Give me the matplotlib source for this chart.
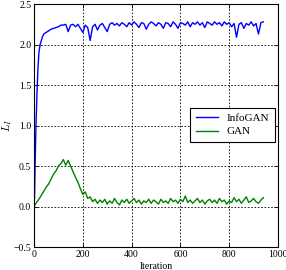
import numpy as np
import matplotlib
matplotlib.use('Agg')
import matplotlib.pyplot as plt

OUT_FILE = 'out.png'

# InfoGAN: dense start, then every 10 iterations
info_iter_start = [2, 5, 8, 12, 16, 20, 25, 30, 35, 40, 50, 60, 70, 80, 90,
                   100, 110, 120]
info_val_start = [0.10, 0.60, 1.00, 1.40, 1.70, 1.90, 2.00, 2.05, 2.10, 2.13,
                  2.15, 2.17, 2.19, 2.20, 2.21, 2.22, 2.24, 2.24]
info_iter_rest = list(range(130, 950, 10))
info_val_rest = [
    2.25, 2.16, 2.24, 2.25, 2.22, 2.25, 2.20, 2.15, 2.24, 2.21,
    2.05, 2.22, 2.25, 2.18, 2.24, 2.26, 2.21, 2.16, 2.25, 2.27,
    2.24, 2.26, 2.23, 2.27, 2.25, 2.22, 2.27, 2.24, 2.28, 2.25,
    2.21, 2.27, 2.26, 2.19, 2.25, 2.28, 2.26, 2.23, 2.27, 2.25,
    2.20, 2.27, 2.26, 2.22, 2.28, 2.25, 2.20, 2.27, 2.26, 2.24,
    2.28, 2.22, 2.27, 2.25, 2.28, 2.24, 2.27, 2.21, 2.28, 2.26,
    2.24, 2.28, 2.25, 2.27, 2.23, 2.28, 2.25, 2.27, 2.22, 2.26,
    2.09, 2.25, 2.27, 2.20, 2.26, 2.24, 2.28, 2.23, 2.26, 2.13,
    2.27, 2.28,
]

# GAN: every 10 iterations
gan_iter = list(range(0, 950, 10))
gan_val = [
    0.00, 0.05, 0.09, 0.14, 0.19, 0.24, 0.28, 0.34, 0.40, 0.44,
    0.50, 0.53, 0.58, 0.51, 0.57, 0.50, 0.43, 0.36, 0.30, 0.22,
    0.15, 0.18, 0.10, 0.12, 0.06, 0.09, 0.04, 0.08, 0.05, 0.09,
    0.03, 0.07, 0.04, 0.10, 0.05, 0.02, 0.08, 0.05, 0.09, 0.04,
    0.07, 0.10, 0.05, 0.08, 0.03, 0.07, 0.05, 0.09, 0.04, 0.08,
    0.06, 0.03, 0.09, 0.05, 0.07, 0.04, 0.10, 0.06, 0.08, 0.04,
    0.09, 0.06, 0.13, 0.05, 0.08, 0.04, 0.07, 0.10, 0.05, 0.08,
    0.03, 0.07, 0.09, 0.05, 0.08, 0.04, 0.10, 0.06, 0.08, 0.03,
    0.07, 0.05, 0.11, 0.06, 0.09, 0.04, 0.08, 0.12, 0.05, 0.07,
    0.10, 0.06, 0.04, 0.08, 0.11,
]

plt.rcParams['font.family'] = ['Liberation Serif', 'DejaVu Serif']
plt.rcParams['mathtext.fontset'] = 'cm'
plt.rcParams['font.size'] = 7

fig = plt.figure(figsize=(2.86, 2.70), dpi=100)
ax = fig.add_axes([0.119, 0.085, 0.853, 0.90])

ax.plot(info_iter_start + info_iter_rest, info_val_start + info_val_rest,
        color='#0000ff', lw=1.0, label='InfoGAN')
ax.plot(gan_iter, gan_val, color='#008000', lw=1.0, label='GAN')

ax.set_xlim(0, 1000)
ax.set_ylim(-0.5, 2.5)
ax.set_xticks(range(0, 1001, 200))
ax.set_yticks(np.arange(-0.5, 2.51, 0.5))
ax.set_yticklabels(['\u22120.5', '0.0', '0.5', '1.0', '1.5', '2.0', '2.5'])
ax.tick_params(direction='in', top=True, right=True, length=3, width=0.6,
               labelsize=7, pad=2)
ax.grid(True, color='black', linestyle=(0, (2, 2)), lw=0.6)
for s in ax.spines.values():
    s.set_linewidth(0.8)

ax.set_xlabel('Iteration', fontsize=7, labelpad=2)
ax.set_ylabel('$L_I$', fontsize=8, labelpad=0)

leg = ax.legend(loc='upper left', bbox_to_anchor=(0.64, 0.572),
                borderaxespad=0, fontsize=8, fancybox=False, framealpha=1,
                edgecolor='black', handlelength=2.0, borderpad=0.5,
                labelspacing=0.3)
leg.get_frame().set_linewidth(0.8)

fig.savefig(OUT_FILE, dpi=100)
